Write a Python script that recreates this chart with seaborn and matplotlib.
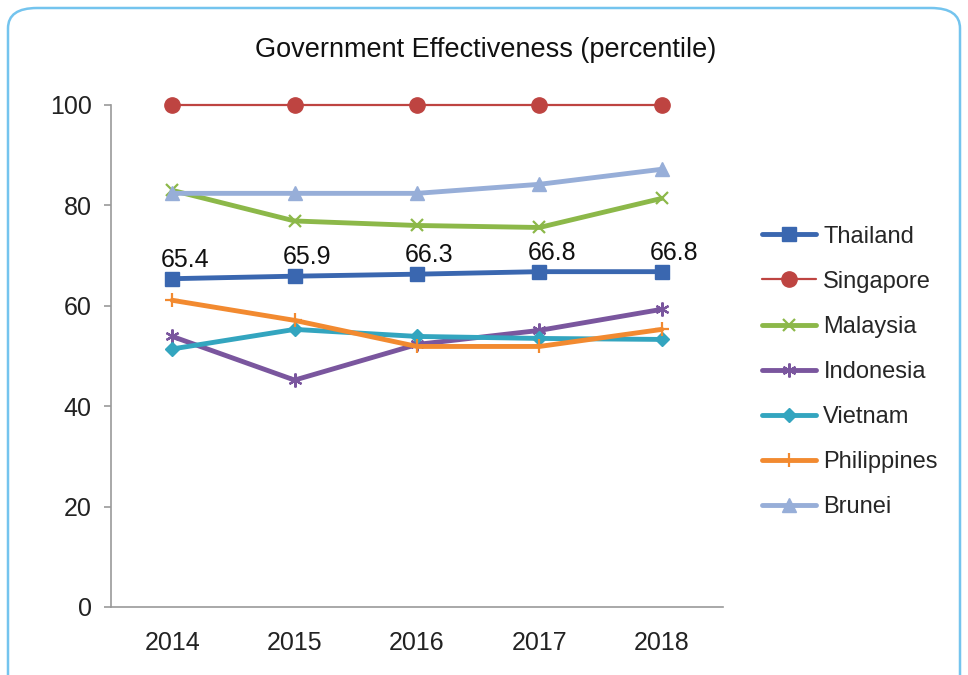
import matplotlib
matplotlib.use("Agg")
import matplotlib.pyplot as plt
from matplotlib.patches import FancyBboxPatch
import numpy as np
import pandas as pd
import seaborn as sns

# Data
years = ["2014", "2015", "2016", "2017", "2018"]
thailand = [65.4, 65.9, 66.3, 66.8, 66.8]
singapore = [100, 100, 100, 100, 100]
malaysia = [83.0, 76.9, 76.0, 75.6, 81.4]
indonesia = [53.9, 45.2, 52.3, 55.1, 59.3]
vietnam = [51.4, 55.3, 53.9, 53.5, 53.3]
philippines = [61.1, 57.1, 51.9, 51.9, 55.3]
brunei = [82.4, 82.4, 82.4, 84.2, 87.2]

countries = ["Thailand", "Singapore", "Malaysia", "Indonesia", "Vietnam", "Philippines", "Brunei"]
series = [thailand, singapore, malaysia, indonesia, vietnam, philippines, brunei]

colors = {
    "Thailand": "#3a67b0",
    "Singapore": "#be4441",
    "Malaysia": "#8cb849",
    "Indonesia": "#7a569e",
    "Vietnam": "#33a5bf",
    "Philippines": "#f28a30",
    "Brunei": "#97aed8",
}
markers = {
    "Thailand": "s",
    "Singapore": "o",
    "Malaysia": "x",
    "Indonesia": (6, 2, 0),
    "Vietnam": "D",
    "Philippines": "+",
    "Brunei": "^",
}
msizes = {"Thailand": 9.5, "Singapore": 11, "Malaysia": 9, "Indonesia": 10,
          "Vietnam": 7, "Philippines": 10, "Brunei": 10}

rows = []
for name, vals in zip(countries, series):
    for i, v in enumerate(vals):
        rows.append({"Country": name, "pos": i, "Value": v})
df = pd.DataFrame(rows)

sns.set_style("white")
plt.rcParams["font.family"] = ["Liberation Sans", "DejaVu Sans"]

fig = plt.figure(figsize=(9.68, 6.75), dpi=100)

# rounded light-blue frame
frame = FancyBboxPatch((8 / 968, -0.05), 952 / 968, 1 - 8 / 675 + 0.05,
                       boxstyle="round,pad=0,rounding_size=0.03",
                       transform=fig.transFigure, facecolor="white",
                       edgecolor="#74c4ee", linewidth=1.8, zorder=-10)
fig.patches.append(frame)

ax = fig.add_axes([111 / 968, 1 - 607 / 675, 612 / 968, 502 / 675])
ax.set_facecolor("none")

for name in countries:
    sub = df[df["Country"] == name]
    lw = 1.6 if name == "Singapore" else 3.5
    thin = name in ("Malaysia", "Indonesia", "Philippines")
    sns.lineplot(data=sub, x="pos", y="Value", ax=ax, color=colors[name],
                 marker=markers[name], markersize=msizes[name],
                 markeredgewidth=1.6 if thin else 1,
                 markeredgecolor=colors[name], linewidth=lw, label=name,
                 clip_on=False)

# data labels on Thailand
for i, v in enumerate(thailand):
    ax.annotate(f"{v:.1f}", (i, v), xytext=(9, 5), textcoords="offset points",
                ha="center", va="bottom", fontsize=18, color="#111111")

ax.set_xlim(-0.5, 4.5)
ax.set_ylim(0, 100)
ax.set_yticks([0, 20, 40, 60, 80, 100])
ax.set_xticks(range(len(years)))
ax.set_xticklabels(years)
ax.set_xticks(np.arange(-0.5, 4.6, 1), minor=True)
ax.set_xlabel("")
ax.set_ylabel("")
ax.tick_params(axis="x", which="major", length=0, pad=17, labelsize=18, colors="#222222")
ax.tick_params(axis="x", which="minor", length=5, color="#999999", width=1.2)
ax.tick_params(axis="y", length=5, color="#999999", width=1.2, pad=9, labelsize=18,
               left=True, labelcolor="#222222")
for s in ["top", "right"]:
    ax.spines[s].set_visible(False)
for s in ["left", "bottom"]:
    ax.spines[s].set_color("#999999")
    ax.spines[s].set_linewidth(1.2)

fig.text(486 / 968, 1 - 50 / 675, "Government Effectiveness (percentile)",
         ha="center", va="center", fontsize=19.5, color="#111111")

ax.legend(loc="center left", bbox_to_anchor=(762 / 968, 1 - 372 / 675),
          bbox_transform=fig.transFigure, frameon=False, fontsize=17,
          labelspacing=0.98, handlelength=2.3, handletextpad=0.3,
          borderaxespad=0, borderpad=0)

fig.savefig("out.png", dpi=100)
